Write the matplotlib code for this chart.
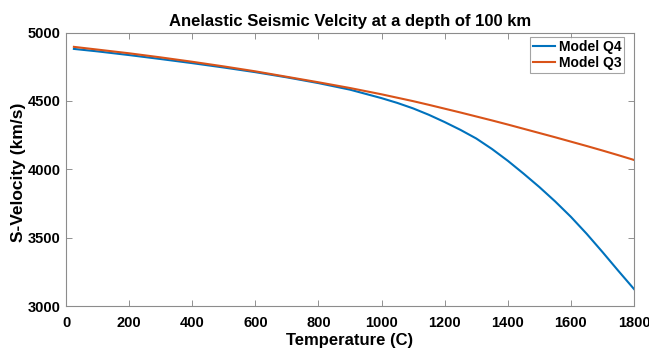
import matplotlib.pyplot as plt

# temperature (C) and S-velocity (km/s)
temperature = [25, 100, 200, 300, 400, 500, 600, 700, 800, 900, 1000,
               1050, 1100, 1150, 1200, 1250, 1300, 1350, 1400, 1450,
               1500, 1550, 1600, 1650, 1700, 1750, 1800]
vel_q4 = [4880, 4862, 4835, 4806, 4776, 4744, 4710, 4672, 4630, 4582, 4520,
          4485, 4445, 4398, 4345, 4288, 4225, 4148, 4062, 3968,
          3870, 3765, 3652, 3528, 3395, 3258, 3124]
vel_q3 = [4895, 4875, 4848, 4818, 4786, 4752, 4716, 4676, 4636, 4594, 4548,
          4523, 4498, 4471, 4443, 4415, 4386, 4357, 4327, 4296,
          4265, 4234, 4202, 4170, 4137, 4103, 4068]

x_ticks = list(range(0, 1801, 200))
y_ticks = list(range(3000, 5001, 500))


def main():
    plt.rcParams['font.family'] = ['Liberation Sans', 'DejaVu Sans']
    plt.rcParams['font.weight'] = 'bold'

    fig = plt.figure(figsize=(6.49, 3.51), dpi=100)
    ax = fig.add_axes([0.1017, 0.1282, 0.8752, 0.7792])

    ax.plot(temperature, vel_q4, color="#0072BD", lw=1.5, label="Model Q4")
    ax.plot(temperature, vel_q3, color="#D95319", lw=1.5, label="Model Q3")

    ax.set_xlim(0, 1800)
    ax.set_ylim(3000, 5000)
    ax.set_xticks(x_ticks)
    ax.set_yticks(y_ticks)
    ax.tick_params(direction='in', length=4, width=0.6, color='#808080',
                   top=True, right=True, labelsize=10.5)
    ax.tick_params(axis='x', pad=7)
    ax.tick_params(axis='y', pad=4)
    for lab in ax.get_xticklabels() + ax.get_yticklabels():
        lab.set_fontweight('bold')
    for sp in ax.spines.values():
        sp.set_color('#8c8c8c')
        sp.set_linewidth(0.8)

    ax.set_title('Anelastic Seismic Velcity at a depth of 100 km',
                 fontsize=12, fontweight='bold', pad=5)
    ax.set_xlabel('Temperature (C)', fontsize=12, fontweight='bold')
    ax.xaxis.set_label_coords(0.5, -0.098)
    ax.set_ylabel('S-Velocity (km/s)', fontsize=12.5, fontweight='bold')
    ax.yaxis.set_label_coords(-0.071, 0.49)

    leg = ax.legend(loc='upper right', bbox_to_anchor=(0.9824, 0.9835),
                    borderaxespad=0, fontsize=10, frameon=True,
                    fancybox=False, handlelength=1.6, handletextpad=0.25,
                    borderpad=0.2, labelspacing=0.15)
    leg.get_frame().set_edgecolor('#8c8c8c')
    leg.get_frame().set_linewidth(0.8)
    for t in leg.get_texts():
        t.set_fontweight('bold')

    fig.savefig("out.png", dpi=100)


if __name__ == "__main__":
    main()
